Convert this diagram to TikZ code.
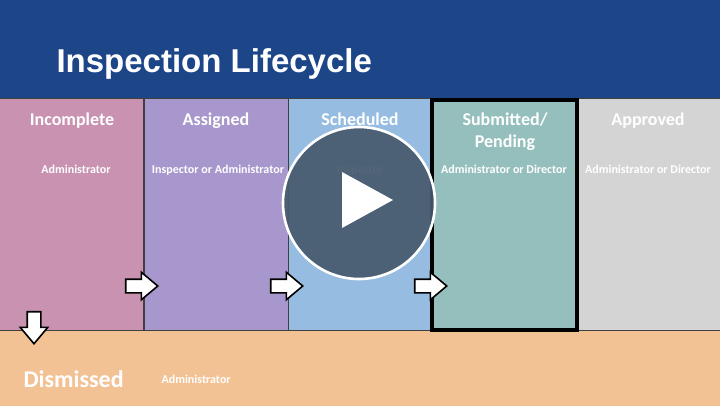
\documentclass[tikz,border=0pt]{standalone}
\usepackage{fontspec}
\setmainfont{Carlito}
\newfontfamily\headfont{Liberation Sans}
\usetikzlibrary{shapes.arrows}
\definecolor{headblue}{RGB}{28,70,136}
\definecolor{incompletecol}{RGB}{200,146,176}
\definecolor{assignedcol}{RGB}{167,151,204}
\definecolor{scheduledcol}{RGB}{150,189,225}
\definecolor{submittedcol}{RGB}{149,191,188}
\definecolor{approvedcol}{RGB}{212,212,212}
\definecolor{dismissedcol}{RGB}{243,194,148}
\definecolor{playgray}{RGB}{70,90,108}
\tikzset{
  stage/.style={draw=black!75, line width=0.6pt, minimum width=144pt, minimum height=232pt, inner sep=0pt, anchor=north west},
  stagetitle/.style={text=white, anchor=base, font=\bfseries\fontsize{18}{22}\selectfont},
  role/.style={text=white, anchor=base, font=\bfseries\fontsize{12}{14}\selectfont},
  blockarrow/.style={single arrow, draw=black, line width=1.6pt, fill=white, minimum height=32pt, inner sep=6pt, single arrow head extend=7pt, single arrow tip angle=80, anchor=tip}
}
\begin{document}
\begin{tikzpicture}[x=1pt,y=-1pt]
\useasboundingbox (0,0) rectangle (720,405);
% header
\fill [headblue] (0,0) rectangle (720,98);
\node [anchor=base west, text=white, font=\headfont\bfseries\fontsize{33}{38}\selectfont] (title) at (53,72) {Inspection Lifecycle};
% stages
\node [stage, fill=incompletecol] (incomplete) at (-1,98) {};
\node [stage, fill=assignedcol] (assigned) at (144,98) {};
\node [stage, fill=scheduledcol] (scheduled) at (288,98) {};
\node [stage, fill=submittedcol] (submitted) at (432,98) {};
\node [stage, fill=approvedcol, minimum width=148pt] (approved) at (576,98) {};
\node [draw=black!75, line width=0.6pt, fill=dismissedcol, minimum width=724pt, minimum height=80pt, inner sep=0pt, anchor=north west] (dismissed) at (-2,330) {};
\draw [line width=3.6pt] (432,99.8) rectangle (577,330);
% titles
\node [stagetitle] (t1) at (72,125) {Incomplete};
\node [stagetitle] (t2) at (216,125) {Assigned};
\node [stagetitle] (t3) at (360,125) {Scheduled};
\node [stagetitle] (t4) at (505,125) {Submitted/};
\node [stagetitle] (t4b) at (505,147) {Pending};
\node [stagetitle] (t5) at (648,125) {Approved};
\node [role] (r1) at (76,173) {Administrator};
\node [role] (r2) at (218,173) {Inspector or Administrator};
\node [role] (r3) at (360,173) {Inspector};
\node [role] (r4) at (504,173) {Administrator or Director};
\node [role] (r5) at (648,173) {Administrator or Director};
\node [anchor=base west, text=white, font=\bfseries\fontsize{24}{28}\selectfont] (t6) at (20,387) {Dismissed};
\node [role, anchor=base west] (r6) at (158,383) {Administrator};
% arrows
\node [blockarrow] (a1) at (159,286) {};
\node [blockarrow] (a2) at (304,286) {};
\node [blockarrow] (a3) at (448,286) {};
\node [blockarrow, shape border rotate=270] (a4) at (34,345) {};
% play button
\node [circle, draw=white, line width=2.6pt, fill=playgray, fill opacity=0.92, minimum size=152pt, inner sep=0pt] (play) at (359,203) {};
\fill [white] (342,172) -- (393,200) -- (342,228) -- cycle;
\end{tikzpicture}
\end{document}
